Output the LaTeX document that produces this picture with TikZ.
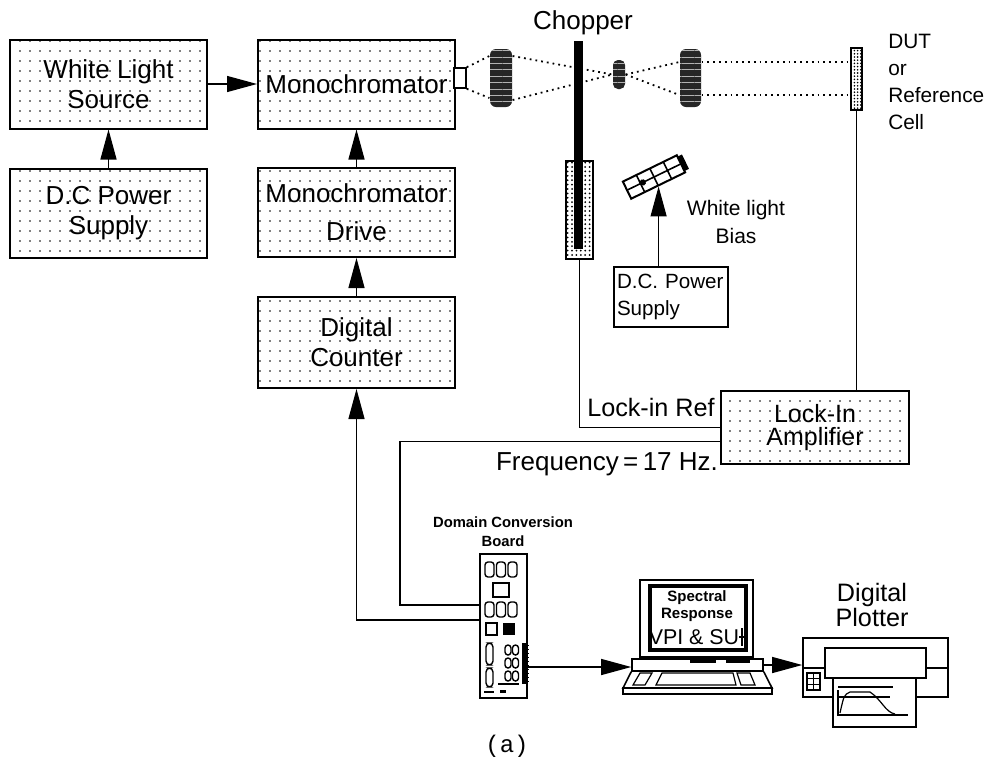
\documentclass[tikz,border=0pt]{standalone}
\usepackage{fontspec}
\setmainfont{Liberation Sans}
\setmonofont{Liberation Mono}
\usetikzlibrary{arrows.meta, patterns.meta}

\begin{document}
\begin{tikzpicture}[x=0.5pt, y=-0.5pt, >={Triangle[length=15pt, width=8pt]}, semithick,
	block/.style={draw, line width=1pt, pattern={Dots[distance=5pt, radius=0.45pt]}, minimum width=98.5pt, minimum height=44.5pt, inner sep=2pt, align=center, font=\fontsize{13}{15}\selectfont},
	lens/.style={fill=black!85, rounded corners=3pt, inner sep=0pt, postaction={pattern={Lines[angle=0, distance=3.2pt, line width=0.3pt]}, pattern color=white!70!black}},
	ray/.style={dotted, line width=0.9pt},
	tag/.style={font=\fontsize{13}{14}\selectfont, align=center}]
	\useasboundingbox (0,0) rectangle (985,761);

	\node[block]							(wls)		at (108.5,84)	{White Light\\Source};
	\node[block]							(mono)		at (356.5,84)	{Monochromator};
	\node[block]							(dcps)		at (108.5,213)	{D.C Power\\Supply};
	\node[block]							(drive)		at (356.5,212.5)	{Monochromator\\[4pt]Drive};
	\node[block, minimum height=45.5pt]		(counter)	at (356.5,342.5)	{Digital\\Counter};
	\node[block, minimum width=94pt, minimum height=36.5pt, font=\fontsize{12.5}{11.5}\selectfont]
											(lockin)	at (815,427.5)	{Lock-In\\Amplifier};

	\path[->]	(wls) edge (mono)
				(dcps) edge (wls)
				(drive) edge (mono)
				(counter) edge (drive);

	\node[draw, fill=white, line width=0.8pt, minimum width=6pt, minimum height=10pt, inner sep=0pt] (slit) at (460,78) {};
	\node[lens, minimum width=11pt, minimum height=29pt]					(lens1)	at (501,78)		{};
	\node[lens, minimum width=6pt, minimum height=14.5pt, rounded corners=2.5pt]	(lens2)	at (619,74.5)	{};
	\node[lens, minimum width=10.5pt, minimum height=29pt]				(lens3)	at (690.5,78)	{};
	\node[draw, line width=0.8pt, pattern={Dots[distance=1.6pt, radius=0.45pt]}, minimum width=5.5pt, minimum height=31pt, inner sep=0pt] (dut) at (856.5,79) {};

	\draw[ray] (slit.north east) -- ([yshift=11pt]lens1.west);
	\draw[ray] (slit.south east) -- ([yshift=-10pt]lens1.west);
	\draw[ray] ([yshift=11pt]lens1.east) -- (lens2.west);
	\draw[ray] ([yshift=-11pt]lens1.east) -- (lens2.west);
	\draw[ray] (lens2.east) -- ([yshift=8pt]lens3.west);
	\draw[ray] (lens2.east) -- ([yshift=-8.5pt]lens3.west);
	\draw[ray] ([yshift=8pt]lens3.east) -- ([yshift=8pt]lens3.east -| dut.west);
	\draw[ray] ([yshift=-8.5pt]lens3.east) -- ([yshift=-8.5pt]lens3.east -| dut.west);

	\node[draw, line width=0.8pt, pattern={Dots[distance=2.2pt, radius=0.5pt]}, minimum width=13.5pt, minimum height=49pt, inner sep=0pt] (housing) at (579.5,210) {};
	\node[fill=black, minimum width=4.5pt, minimum height=104pt, inner sep=0pt] (blade) at (578.5,145) {};
	\node[tag] (chop) at (583,23) {Chopper};

	\node[anchor=west, align=left, font=\fontsize{10.4}{13.5}\selectfont] (dutlbl) at (881,82) {DUT\\or\\Reference\\Cell};

	\node[draw, line width=1pt, rotate=26, minimum width=30pt, minimum height=9.5pt, inner sep=0pt] (lamp) at (654,177) {};
	\begin{scope}[shift={(lamp.center)}, rotate=26, line width=0.8pt]
		\draw (-30,0) -- (30,0);
		\foreach \u in {-15,0,15}
			\draw (\u,-9.5) -- (\u,9.5);
		\fill (30,-8) rectangle (35,8);
		\fill (-12.5,0) circle (1.6pt);
	\end{scope}
	\node[draw, line width=0.8pt, text width=54pt, minimum height=30pt, inner xsep=1.5pt, align=left, font=\fontsize{10.3}{13.5}\selectfont] (lampps) at (671,297) {D.C. Power\\Supply};
	\draw[->] (lampps.north -| lamp.south) -- (lamp.south);
	\node[font=\fontsize{10.5}{14}\selectfont, align=center] (biaslbl) at (736,222) {White light\\Bias};

	\node[draw, line width=0.8pt, minimum width=23.5pt, minimum height=72pt, inner sep=0pt] (board) at (503.5,626) {};
	\node[font=\fontsize{7.4}{9.5}\selectfont\bfseries, align=center] (boardlbl) at (503,532) {Domain Conversion\\Board};
	\begin{scope}[line width=0.7pt]
		\foreach \r in {562,602}
			\foreach \c in {485,496.5,508}
				\draw[rounded corners=1.5pt] (\c,\r) rectangle ++(9,15);
		\draw (493,583) rectangle (509,597);
		\draw (486,623) rectangle (497,635);
		\fill (503,623) rectangle (515,635);
		\draw[rounded corners=2pt] (486,643) rectangle (493,665);
		\draw[rounded corners=2pt] (486,668) rectangle (493,687);
		\foreach \r in {645,658,671}
			\foreach \c in {505,512.5}
				\draw[rounded corners=1.5pt] (\c,\r) rectangle ++(6,10);
		\draw (498,684) -- (519,684);
		\fill (522,643) rectangle (526,684);
		\foreach \t in {645,649,...,681}
			\draw[line width=0.5pt] (526,\t) -- (529,\t);
		\draw (484,692) -- (494,692);
		\fill (500,690) rectangle (506,693);
	\end{scope}

	\draw (housing.south) |- (lockin.west);
	\node[tag, anchor=west, font=\fontsize{12.6}{14}\selectfont] (reflbl) at (580,407) {Lock-in Ref};
	\draw (dut.south) -- (dut.south |- lockin.north);

	\coordinate (fturn) at (400,605);
	\draw ([yshift=-7pt]lockin.west) -| (fturn) |- ([yshift=10.5pt]board.west);
	\node[tag] (freq) at (607,464) {Frequency\,=\,17 Hz.};
	\draw[->] ([yshift=3pt]board.west) -| (counter.south);

	\node[draw, line width=0.8pt, minimum width=56.5pt, minimum height=38.5pt, inner sep=0pt] (monitor) at (696.5,618.5) {};
	\draw[line width=1.8pt] (650,586) rectangle (746,650);
	\node[align=center, inner sep=0pt, font=\fontsize{7.5}{8.5}\selectfont\bfseries] (scrtxt) at (697,606) {Spectral\\Response};
	\node[inner sep=0pt, font=\fontsize{10.7}{12}\selectfont] (vpi) at (694,637) {VPI \& SU};
	\draw (742,628) -- (742,646);
	\draw (739,637) -- (745,637);
	\node[draw, line width=0.8pt, minimum width=65.5pt, minimum height=6pt, inner sep=0pt] (pcbase) at (697.5,665) {};
	\fill (690,660) rectangle (716,663);
	\fill (726,660) rectangle (750,663);
	\draw[line width=0.8pt] (pcbase.south west) -- (623,688) -- (772,688) -- (pcbase.south east);
	\draw[line width=0.8pt] (623,688) rectangle (772,694);
	\draw (640,673) -- (652,673) -- (645,685) -- (633,685) -- cycle;
	\draw (662,673) -- (733,673) -- (736,685) -- (656,685) -- cycle;
	\draw (737,673) -- (750,673) -- (755,685) -- (741,685) -- cycle;

	\node[draw, line width=0.8pt, minimum width=72.5pt, minimum height=29.5pt, inner sep=0pt] (plotter) at (875.5,667.5) {};
	\node[tag, font=\fontsize{12.6}{12.5}\selectfont] (plotlbl) at (872,605) {Digital\\Plotter};
	\draw[line width=0.8pt] (825,648) rectangle (926,678);
	\draw (803,668) -- (825,668) (926,668) -- (948,668);
	\draw (807,673) rectangle (820,690);
	\draw (813.5,673) -- (813.5,690) (807,678.7) -- (820,678.7) (807,684.3) -- (820,684.3);
	\draw[fill=white, line width=0.8pt] (833,678) rectangle (916,727);
	\draw[line width=1.4pt] (833,678) -- (916,678);
	\draw (838,687) -- (893,687) (838,697) -- (890,697);
	\draw (838,690) -- (838,715) -- (908,715);
	\draw (840,713) .. controls (844,695) .. (850,692) -- (870,692) .. controls (882,700) and (885,712) .. (895,714);

	\draw[->] ([yshift=-20.5pt]board.east) -- ([yshift=-20.5pt]board.east -| pcbase.west);
	\draw[->] (pcbase.east) -- (pcbase.east -| plotter.west);

	\node[font=\ttfamily\fontsize{12}{14}\selectfont] (cap) at (507,746) {(a)};
\end{tikzpicture}
\end{document}
